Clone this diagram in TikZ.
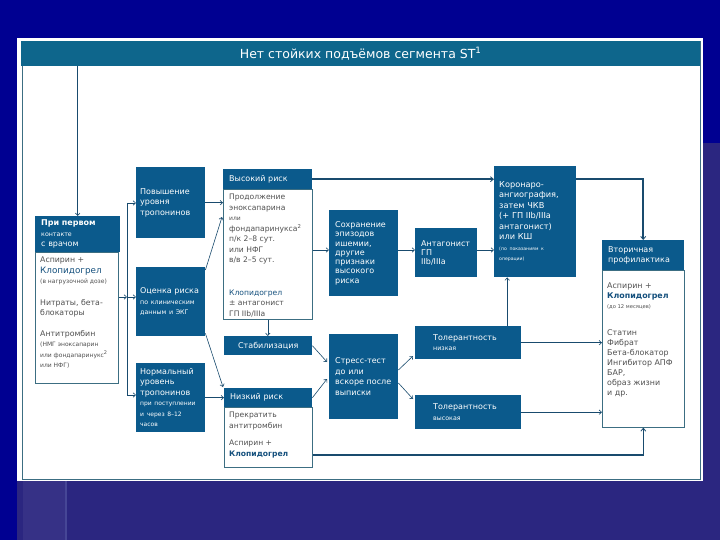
\documentclass[tikz,border=0pt]{standalone}
\usepackage{fontspec}
\setmainfont{DejaVu Sans}
\usetikzlibrary{arrows.meta}
\definecolor{bgnavy}{RGB}{43,38,128}
\definecolor{bgblue}{RGB}{0,0,145}
\definecolor{bgline}{RGB}{70,70,150}
\definecolor{boxblue}{RGB}{11,90,140}
\definecolor{bandteal}{RGB}{14,102,140}
\definecolor{frameline}{RGB}{60,110,130}
\definecolor{bodytext}{RGB}{80,80,80}
\definecolor{clopi}{RGB}{20,80,125}
\definecolor{linecol}{RGB}{25,75,110}
\newcommand{\tfs}{\fontsize{6}{7}\selectfont}
\newcommand{\sfs}{\fontsize{6.3}{8}\selectfont}
\begin{document}
\begin{tikzpicture}[x=1pt,y=-1pt,
  dbox/.style={fill=boxblue, text=white, inner xsep=6pt, inner ysep=0pt, anchor=north west, align=left, font=\fontsize{8}{10.5}\selectfont},
  wbox/.style={fill=white, draw=frameline, line width=0.6pt, anchor=north west, inner sep=0pt},
  btext/.style={anchor=north west, align=left, text=bodytext, inner sep=0pt, font=\fontsize{7.6}{10.5}\selectfont},
  arr/.style={draw=linecol, line width=0.6pt, -{Straight Barb[length=2.5pt,width=4.5pt]}},
  thk/.style={draw=linecol, line width=1.6pt, -{Straight Barb[length=3pt,width=5pt,line width=0.8pt]}}
]
\useasboundingbox (0,0) rectangle (720,540);
% background
\fill[bgnavy] (0,0) rectangle (720,540);
\fill[bgblue] (0,0) rectangle (720,143);
\fill[bgblue] (0,0) rectangle (17,540);
\fill[bgnavy!95!white] (23,481) rectangle (65,540);
\fill[bgline] (65,481) rectangle (67,540);
% panel
\fill[white] (17,38) rectangle (703,481);
\draw[frameline, line width=0.6pt] (22,41) rectangle (700,479);
\node[fill=bandteal, anchor=north west, minimum width=679pt, minimum height=25pt, inner sep=0pt] (title) at (21,41) {};
\node[text=white, font=\fontsize{12.5}{15}\selectfont] at (title.center) {Нет стойких подъёмов сегмента ST\textsuperscript{1}};

% first contact
\node[dbox, minimum width=83pt, minimum height=36pt, text width=73pt] (firsthead) at (35,216)
  {{\bfseries При первом}\\{\sfs контакте}\\с врачом};
\node[wbox, minimum width=83pt, minimum height=131pt] (firstbody) at (35,252) {};
\node[btext, font=\fontsize{7.8}{10.5}\selectfont] at (40,257) {Аспирин +\\{\fontsize{8.8}{10.5}\selectfont\color{clopi}Клопидогрел}\\{\tfs (в нагрузочной дозе)}\\[11pt]
  Нитраты, бета-\\блокаторы\\[10pt]Антитромбин\\{\tfs (НМГ эноксапарин}\\{\tfs или фондапаринукс\textsuperscript{2}}\\{\tfs или НФГ)}};

% column 2
\node[dbox, minimum width=69pt, minimum height=71pt, text width=61pt, inner xsep=4pt] (pov) at (136,167)
  {Повышение\\уровня\\тропонинов};
\node[dbox, minimum width=69pt, minimum height=69pt, text width=61pt, inner xsep=4pt] (otsenka) at (136,267)
  {Оценка риска\\{\sfs по клиническим}\\{\sfs данным и ЭКГ}};
\node[dbox, minimum width=69pt, minimum height=69pt, text width=61pt, inner xsep=4pt] (norm) at (136,363)
  {Нормальный\\уровень\\тропонинов\\{\tfs при поступлении}\\{\tfs и через 8--12}\\{\tfs часов}};

% column 3
\node[dbox, minimum width=89pt, minimum height=20pt, text width=77pt] (highhead) at (223,169) {Высокий риск};
\node[wbox, minimum width=89pt, minimum height=130pt] (highbody) at (223,189) {};
\node[btext] at (229,194) {Продолжение\\эноксапарина\\{\tfs или}\\фондапаринукса\textsuperscript{2}\\п/к 2--8 сут.\\или НФГ\\в/в 2--5 сут.\\[22pt]
  {\color{clopi}Клопидогрел}\\± антагонист\\ГП IIb/IIIa};
\node[dbox, minimum width=88pt, minimum height=19pt, text width=76pt, align=center] (stab) at (224,336) {Стабилизация};
\node[dbox, minimum width=88pt, minimum height=19pt, text width=76pt] (lowhead) at (224,388) {Низкий риск};
\node[wbox, minimum width=88pt, minimum height=60pt] (lowbody) at (224,407) {};
\node[btext] at (229,412) {Прекратить\\антитромбин\\[7pt]Аспирин +\\{\color{clopi}\bfseries Клопидогрел}};

% column 4
\node[dbox, minimum width=69pt, minimum height=86pt, text width=57pt, font=\fontsize{8}{9.3}\selectfont] (sohr) at (329,210)
  {Сохранение\\эпизодов\\ишемии,\\другие\\признаки\\высокого\\риска};
\node[dbox, minimum width=69pt, minimum height=85pt, text width=57pt] (stress) at (329,334)
  {Стресс-тест\\до или\\вскоре после\\выписки};

% column 5
\node[dbox, minimum width=62pt, minimum height=49pt, text width=50pt, font=\fontsize{8}{9}\selectfont] (antag) at (415,228)
  {Антагонист\\ГП\\IIb/IIIa};
\node[dbox, minimum width=82pt, minimum height=111pt, text width=72pt, inner xsep=5pt, font=\fontsize{8.2}{10.5}\selectfont] (koro) at (494,166)
  {Коронаро-\\ангиография,\\затем ЧКВ\\(+ ГП IIb/IIIa\\антагонист)\\или КШ\\{\fontsize{4.6}{6}\selectfont (по показаниям к операции)}};
\node[dbox, minimum width=106pt, minimum height=33pt, text width=70pt, inner xsep=18pt] (tollow) at (415,326)
  {Толерантность\\{\sfs низкая}};
\node[dbox, minimum width=106pt, minimum height=34pt, text width=70pt, inner xsep=18pt] (tolhigh) at (415,395)
  {Толерантность\\{\sfs высокая}};

% column 6
\node[dbox, minimum width=82pt, minimum height=30pt, text width=70pt] (vtorhead) at (602,240)
  {Вторичная\\профилактика};
\node[wbox, minimum width=82pt, minimum height=157pt] (vtorbody) at (602,270) {};
\node[btext, font=\fontsize{7.9}{10}\selectfont] at (607,283) {Аспирин +\\{\color{clopi}\bfseries Клопидогрел}\\{\fontsize{5.2}{6}\selectfont (до 12 месяцев)}\\[17pt]
  Статин\\Фибрат\\Бета-блокатор\\Ингибитор АПФ\\БАР,\\образ жизни\\и др.};

% connectors
\draw[arr] (firsthead |- title.south) -- (firsthead.north);
\coordinate (busT) at (127,203);
\coordinate (busM) at (127,297);
\coordinate (busB) at (127,395);
\draw[draw=linecol, line width=0.6pt] (busT) -- (busB);
\draw[arr] (firstbody.east |- busM) -- (busM);
\draw[arr] (busT) -- (busT -| pov.west);
\draw[arr] (busM) -- (busM -| otsenka.west);
\draw[arr] (busB) -- (busB -| norm.west);
\draw[arr] (pov.east) -- (pov.east -| highbody.west);
\draw[arr] ([yshift=-3pt]otsenka.north east) -- ([yshift=-28pt,xshift=-1pt]highbody.north west);
\draw[arr] ([yshift=3pt]otsenka.south east) -- ([xshift=-1pt,yshift=1pt]lowhead.north west);
\draw[arr] (norm.east) -- (lowhead.west);
\coordinate (row) at (0,250);
\draw[arr] (highbody.east |- row) -- (sohr.west |- row);
\draw[arr] (sohr.east |- row) -- (antag.west |- row);
\draw[arr] (antag.east |- row) -- (koro.west |- row);
\draw[arr] (highbody.south) -- (highbody.south |- stab.north);
\draw[thk] (highhead.east) -- (highhead.east -| koro.west);
\draw[thk] (koro.east |- highhead.east) -| (vtorhead.north);
\draw[arr] ([xshift=39pt]tollow.north) -- ([xshift=39pt]tollow.north |- koro.south);
\draw[arr] (tollow.east) -- (tollow.east -| vtorbody.west);
\draw[arr] (tolhigh.east) -- (tolhigh.east -| vtorbody.west);
\draw[arr] (stab.east) -- ([yshift=-28pt,xshift=-2pt]stress.north west);
\draw[arr] (lowhead.east) -- ([yshift=-45pt,xshift=-2pt]stress.north west);
\draw[arr] ([yshift=-36pt]stress.north east) -- ([yshift=-30pt,xshift=-2pt]tollow.north west);
\draw[arr] ([yshift=-49pt]stress.north east) -- ([yshift=-4pt,xshift=-2pt]tolhigh.north west);
\draw[thk] ([yshift=-48pt]lowbody.north east) -| (vtorbody.south);
\end{tikzpicture}
\end{document}
